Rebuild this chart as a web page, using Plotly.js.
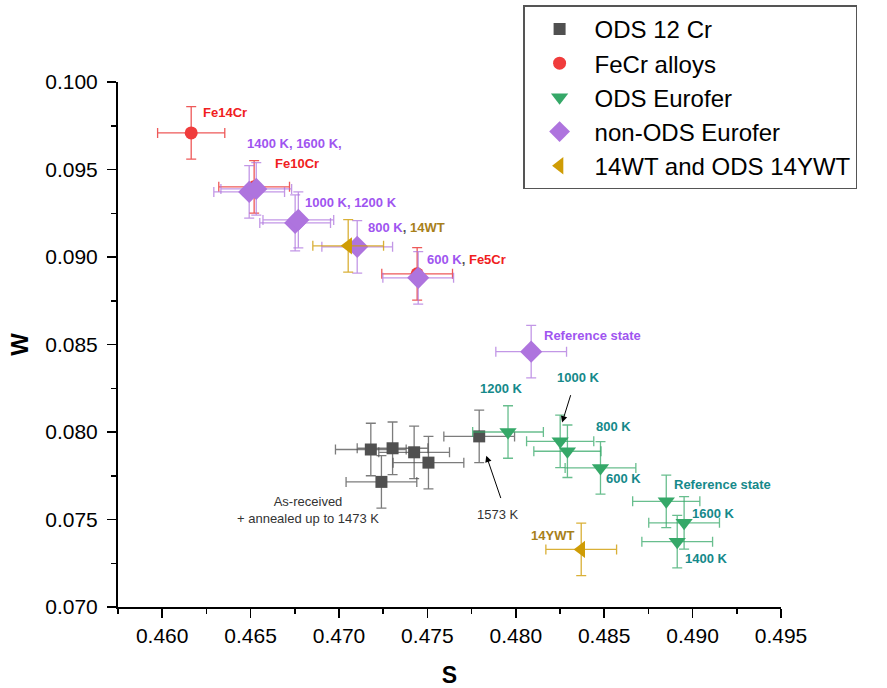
<!DOCTYPE html>
<html>
<head>
<meta charset="utf-8">
<script src="https://cdn.plot.ly/plotly-3.0.1.min.js"></script>
<style>html,body{margin:0;padding:0;background:#fff;}#chart{width:887px;height:688px;}</style>
</head>
<body>
<div id="chart"></div>
<script>
// ODS 12 Cr (as-received + annealed, last = 1573 K)
const ods12_S  = [0.47180, 0.47303, 0.47425, 0.47506, 0.47240, 0.47793];
const ods12_W  = [0.07900, 0.07907, 0.07884, 0.07825, 0.07715, 0.07975];
const ods12_dS = [0.0020, 0.0020, 0.0020, 0.0020, 0.0020, 0.0020];
const ods12_dW = [0.0015, 0.0015, 0.0015, 0.0015, 0.0015, 0.0015];

// FeCr alloys: Fe14Cr, Fe10Cr, Fe5Cr
const fecr_S  = [0.46164, 0.46520, 0.47442];
const fecr_W  = [0.09709, 0.09401, 0.08904];
const fecr_dS = [0.0019, 0.0020, 0.0020];
const fecr_dW = [0.0015, 0.0015, 0.0015];

// ODS Eurofer: Reference, 600 K, 800 K, 1000 K, 1200 K, 1400 K, 1600 K
const odsEu_S  = [0.48851, 0.48479, 0.48292, 0.48251, 0.47956, 0.48913, 0.48952];
const odsEu_W  = [0.07604, 0.07795, 0.07890, 0.07947, 0.08000, 0.07373, 0.07481];
const odsEu_dS = [0.0019, 0.0020, 0.0019, 0.0019, 0.0020, 0.0020, 0.0020];
const odsEu_dW = [0.0015, 0.0015, 0.0015, 0.0015, 0.0015, 0.0015, 0.0015];

// non-ODS Eurofer: Reference, 600 K, 800 K, 1000 K, 1200 K, 1400 K, 1600 K
const nonEu_S  = [0.48087, 0.47448, 0.47103, 0.46752, 0.46770, 0.46492, 0.46532];
const nonEu_W  = [0.08459, 0.08881, 0.09058, 0.09195, 0.09212, 0.09372, 0.09389];
const nonEu_dS = [0.0020, 0.0020, 0.0020, 0.0020, 0.0020, 0.0020, 0.0020];
const nonEu_dW = [0.0015, 0.0015, 0.0015, 0.0016, 0.0016, 0.0015, 0.0015];

// 14WT and ODS 14YWT
const wt_S  = [0.47052, 0.48370];
const wt_W  = [0.09064, 0.07329];
const wt_dS = [0.0020, 0.0020];
const wt_dW = [0.0015, 0.0015];

const seriesNames = ["ODS 12 Cr", "FeCr alloys", "ODS Eurofer", "non-ODS Eurofer", "14WT and ODS 14YWT"];

const xTicks = [0.460, 0.465, 0.470, 0.475, 0.480, 0.485, 0.490, 0.495];
const yTicks = [0.070, 0.075, 0.080, 0.085, 0.090, 0.095, 0.100];

const FONT = "Arial, 'Liberation Sans', sans-serif";

function tr(name, S, W, dS, dW, sym, size, col, ecol, grp) {
  return {
    type: "scatter", mode: "markers", name: name, x: S, y: W,
    legendgroup: grp,
    marker: {symbol: sym, size: size, color: col, line: {width: 0}},
    error_x: {type: "data", array: dS, visible: true, color: ecol, thickness: 1.3, width: 5},
    error_y: {type: "data", array: dW, visible: true, color: ecol, thickness: 1.3, width: 5},
    cliponaxis: false
  };
}

const data = [
  tr(seriesNames[0], ods12_S, ods12_W, ods12_dS, ods12_dW, "square", 12, "#505050", "rgba(80,80,80,0.75)", "a"),
  tr(seriesNames[1], fecr_S, fecr_W, fecr_dS, fecr_dW, "circle", 13, "#f03c3c", "rgba(235,60,60,0.85)", "b"),
  tr(seriesNames[2], odsEu_S, odsEu_W, odsEu_dS, odsEu_dW, "triangle-down", 15, "#35a868", "rgba(53,168,104,0.75)", "c"),
  tr(seriesNames[3], nonEu_S, nonEu_W, nonEu_dS, nonEu_dW, "diamond", 17, "#ae74de", "rgba(174,116,222,0.75)", "d"),
  tr(seriesNames[4], wt_S, wt_W, wt_dS, wt_dW, "triangle-left", 15, "#cf9c05", "rgba(207,156,5,0.8)", "e")
];

const PUR = "#9f55f0", RED = "#f02020", TEAL = "#15898a", GOLD = "#a8801a", DK = "#333333";
function lab(text, x, y, col, xa) {
  return {text: "<b>" + text + "</b>", x: x, y: y, xref: "x", yref: "y", showarrow: false,
          xanchor: xa || "left", yanchor: "middle", font: {family: FONT, size: 13, color: col}};
}
const annotations = [
  lab("Fe14Cr", 0.46221, 0.09823, RED),
  lab("1400 K, 1600 K,", 0.46469, 0.09646, PUR),
  lab("Fe10Cr", 0.46628, 0.09532, RED),
  lab("1000 K, 1200 K", 0.46797, 0.09309, PUR),
  lab("<span style='color:" + PUR + "'>800 K</span><span style='color:#555'>, </span><span style='color:" + GOLD + "'>14WT</span>", 0.47154, 0.09167, PUR),
  lab("<span style='color:" + PUR + "'>600 K</span><span style='color:#555'>, </span><span style='color:" + RED + "'>Fe5Cr</span>", 0.47488, 0.08984, PUR),
  lab("Reference state", 0.48149, 0.08550, PUR),
  lab("1200 K", 0.47787, 0.08248, TEAL),
  lab("1000 K", 0.48223, 0.08310, TEAL),
  lab("800 K", 0.48443, 0.08031, TEAL),
  lab("600 K", 0.48500, 0.07734, TEAL),
  lab("Reference state", 0.48885, 0.07700, TEAL),
  lab("1600 K", 0.48986, 0.07534, TEAL),
  lab("1400 K", 0.48947, 0.07277, TEAL),
  lab("14YWT", 0.48076, 0.07409, GOLD),
  {text: "As-received<br>+ annealed up to 1473 K", x: 0.46826, y: 0.07557, xref: "x", yref: "y",
   showarrow: false, xanchor: "center", yanchor: "middle", align: "center",
   font: {family: FONT, size: 13, color: DK}},
  {text: "1573 K", x: 0.47770, y: 0.07528, xref: "x", yref: "y", showarrow: false,
   xanchor: "left", yanchor: "middle", font: {family: FONT, size: 13, color: DK}},
  {text: "", x: 0.48262, y: 0.08054, ax: 0.48313, ay: 0.08219, xref: "x", yref: "y", axref: "x", ayref: "y",
   showarrow: true, arrowhead: 2, arrowsize: 1.3, arrowwidth: 1, arrowcolor: "#000"},
  {text: "", x: 0.47833, y: 0.07865, ax: 0.47918, ay: 0.07614, xref: "x", yref: "y", axref: "x", ayref: "y",
   showarrow: true, arrowhead: 2, arrowsize: 1.3, arrowwidth: 1, arrowcolor: "#000"}
];

const layout = {
  width: 887, height: 688,
  margin: {l: 118, r: 106, t: 82, b: 81, autoexpand: false},
  paper_bgcolor: "#fff", plot_bgcolor: "#fff",
  font: {family: FONT, color: "#000"},
  showlegend: true,
  legend: {x: 0.611, y: 1.146, xanchor: "left", yanchor: "top",
           bordercolor: "#555", borderwidth: 1.5, bgcolor: "#fff",
           font: {family: FONT, size: 24, color: "#000"}, tracegroupgap: 0,
           itemwidth: 60},
  xaxis: {range: [0.4575, 0.495], tickvals: xTicks, ticktext: xTicks.map(v => v.toFixed(3)),
          showgrid: false, zeroline: false, showline: true, linecolor: "#000", linewidth: 2,
          ticks: "outside", ticklen: 9, tickwidth: 1.5, tickcolor: "#000",
          minor: {dtick: 0.0025, tick0: 0.4575, ticks: "outside", ticklen: 5, tickwidth: 1.5, tickcolor: "#000"},
          tickfont: {family: FONT, size: 21, color: "#000"},
          title: {text: "<b>S</b>", font: {family: FONT, size: 23, color: "#000"}, standoff: 26}},
  yaxis: {range: [0.070, 0.100], tickvals: yTicks, ticktext: yTicks.map(v => v.toFixed(3)),
          showgrid: false, zeroline: false, showline: true, linecolor: "#000", linewidth: 2,
          ticks: "outside", ticklen: 9, tickwidth: 1.5, tickcolor: "#000", ticklabelstandoff: 5,
          minor: {dtick: 0.0025, tick0: 0.070, ticks: "outside", ticklen: 5, tickwidth: 1.5, tickcolor: "#000"},
          tickfont: {family: FONT, size: 21, color: "#000"},
          title: {text: "<b>W</b>", font: {family: FONT, size: 24, color: "#000"}, standoff: 10}},
  annotations: annotations
};

Plotly.newPlot("chart", data, layout, {displayModeBar: false, staticPlot: true});
</script>
</body>
</html>
